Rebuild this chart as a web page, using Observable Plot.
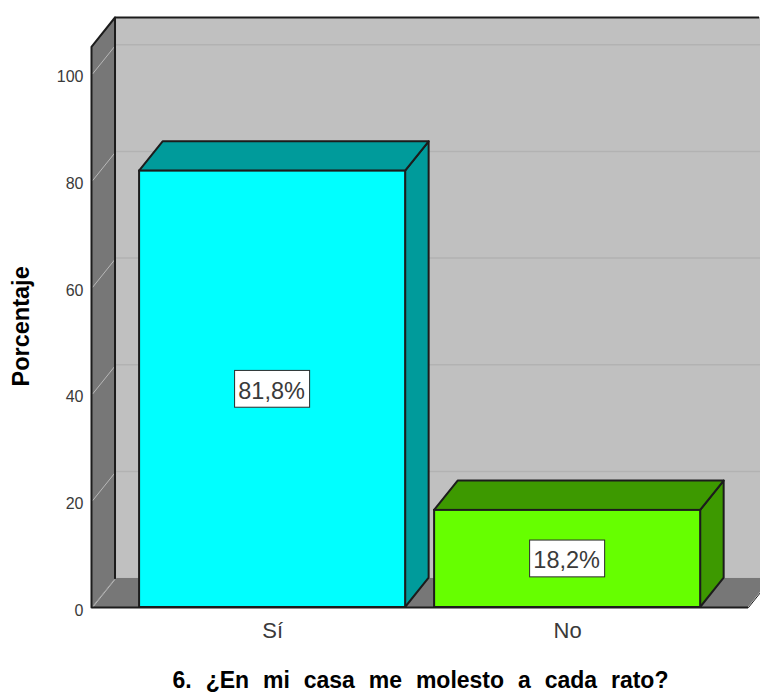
<!DOCTYPE html>
<html>
<head>
<meta charset="utf-8">
<script src="https://cdn.jsdelivr.net/npm/d3@7"></script>
<script src="https://cdn.jsdelivr.net/npm/@observablehq/plot@0.6"></script>
<style>
  html, body { margin: 0; padding: 0; background: #fff; overflow: hidden; }
  .q-title { word-spacing: 7.5px; }
</style>
</head>
<body>
<div id="chart"></div>
<script>
const categories = ["Sí", "No"];
const percentages = [81.8, 18.2];
const valueLabels = ["81,8%", "18,2%"];
const barStarts = [0.177, 1.286];
const frontColors = ["#00ffff", "#66ff00"];
const sideColors = ["#009b9b", "#3d9900"];
const yTicks = [0, 20, 40, 60, 80, 100];
const yLabel = "Porcentaje";
const xTitle = "6. ¿En mi casa me molesto a cada rato?";

// 3D extrusion and frame, in scale units (one bar wide = 1 on x, percent on y)
const depthX = 0.0884, depthY = 5.5;
const floorEnd = 2.466, xEnd = 2.511, wallTop = 105.1;
const boxW = 0.282, boxH = 6.9;
const edge = "#1c1c1c", textColor = "#3a3a3a", font = "Liberation Sans";

const bars = categories.map((c, i) => ({
  c, v: percentages[i], l: barStarts[i], r: barStarts[i] + 1,
  mid: barStarts[i] + 0.5, label: valueLabels[i], front: frontColors[i], side: sideColors[i]
}));
const sideFaces = bars.flatMap(b => [
  {c: b.c, x: b.r, y1: 0, y2: b.v, fill: b.side},
  {c: b.c, x: b.r + depthX, y1: depthY, y2: b.v + depthY, fill: b.side}
]);
const topFaces = bars.flatMap(b => [
  {c: b.c, y: b.v, x1: b.l, x2: b.r, fill: b.side},
  {c: b.c, y: b.v + depthY, x1: b.l + depthX, x2: b.r + depthX, fill: b.side}
]);
const leftWall = [
  {x: 0, y1: 0, y2: wallTop},
  {x: depthX, y1: depthY, y2: wallTop + depthY}
];
const floorRows = [
  {y: 0, x1: 0, x2: floorEnd},
  {y: depthY * (xEnd - floorEnd) / depthX, x1: depthX * (xEnd - floorEnd) / depthX, x2: xEnd},
  {y: depthY, x1: depthX, x2: xEnd}
];
const wallEdge = [
  {x: 0, y: 0}, {x: 0, y: wallTop}, {x: depthX, y: wallTop + depthY}, {x: depthX, y: depthY}
];

const plot = Plot.plot({
  width: 760, height: 693,
  marginLeft: 92, marginRight: 0, marginTop: 17, marginBottom: 86,
  style: {background: "#fff", fontFamily: font},
  x: {domain: [0, xEnd], axis: null},
  y: {domain: [0, wallTop + depthY], axis: null},
  color: {type: "identity"},
  marks: [
    Plot.rect([0], {x1: depthX, x2: xEnd, y1: depthY, y2: wallTop + depthY, fill: "#c0c0c0"}),
    Plot.ruleY(yTicks.slice(1).map(t => t + depthY), {x1: depthX, x2: xEnd, stroke: "#b2b2b2", strokeWidth: 1.5}),
    Plot.areaY(leftWall, {x: "x", y1: "y1", y2: "y2", fill: "#777777"}),
    Plot.areaX(floorRows, {y: "y", x1: "x1", x2: "x2", fill: "#777777"}),
    Plot.link(yTicks, {x1: 0, x2: depthX, y1: d => d, y2: d => d + depthY, stroke: "#b8b8b8", strokeWidth: 1}),
    Plot.line(wallEdge, {x: "x", y: "y", dx: -1, stroke: edge, strokeWidth: 2}),
    Plot.ruleY([wallTop + depthY], {x1: depthX, x2: xEnd, dx: -1, stroke: edge, strokeWidth: 2}),
    Plot.ruleY([0], {x1: 0, x2: floorEnd, stroke: edge, strokeWidth: 2}),
    Plot.line(floorRows.slice(0, 2), {x: "x2", y: "y", stroke: edge, strokeWidth: 1}),

    Plot.areaY(sideFaces, {x: "x", y1: "y1", y2: "y2", z: "c", fill: "fill", stroke: edge, strokeWidth: 2}),
    Plot.areaX(topFaces, {y: "y", x1: "x1", x2: "x2", z: "c", fill: "fill", stroke: edge, strokeWidth: 2}),
    Plot.rect(bars, {x1: "l", x2: "r", y1: 0, y2: "v", fill: "front", stroke: edge, strokeWidth: 2}),

    Plot.rect(bars, {
      x1: d => d.mid - boxW / 2, x2: d => d.mid + boxW / 2,
      y1: d => d.v / 2 - boxH / 2, y2: d => d.v / 2 + boxH / 2,
      fill: "#fff", stroke: "#2a2a2a", strokeWidth: 1
    }),
    Plot.text(bars, {
      x: "mid", y: d => d.v / 2, text: "label", dx: -1, dy: 2,
      fontSize: 23.5, fill: textColor, fontFamily: font
    }),

    Plot.axisY({
      ticks: yTicks, tickSize: 0, tickPadding: 9, label: null, dy: 3,
      fontSize: 16, color: textColor, fontFamily: font
    }),
    Plot.axisX({
      ticks: bars.map(b => b.mid), tickFormat: (d, i) => categories[i],
      tickSize: 0, tickPadding: 15, label: null, fontSize: 22, color: textColor, fontFamily: font
    }),
    Plot.text([yLabel], {
      frameAnchor: "left", y: 52.7, dx: -71, rotate: -90, textAnchor: "middle",
      text: d => d, fontSize: 23.5, fontWeight: "bold", fill: "#000", fontFamily: font
    }),
    Plot.text([xTitle], {
      frameAnchor: "bottom", x: floorEnd / 2, dy: 80,
      text: d => d, fontSize: 23, fontWeight: "bold", fill: "#000", fontFamily: font,
      className: "q-title"
    })
  ]
});
document.getElementById("chart").appendChild(plot);
</script>
</body>
</html>
